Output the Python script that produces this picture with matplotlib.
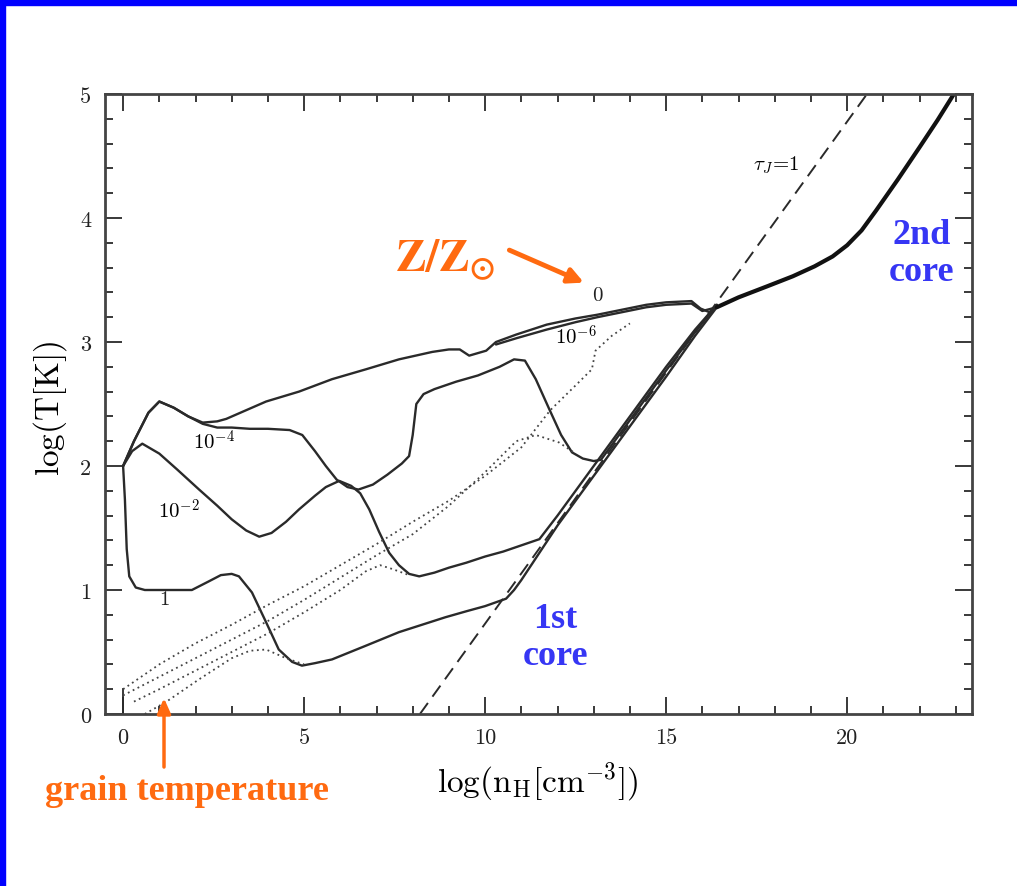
import matplotlib
matplotlib.use("Agg")
import matplotlib.pyplot as plt
from matplotlib.patches import Rectangle
from matplotlib.ticker import MultipleLocator

# density (log n_H) and temperature (log T) tracks for each metallicity
n_z0 = [0, 0.3, 0.7, 1.0, 1.4, 1.8, 2.2, 2.6, 2.85, 3.4, 3.95, 4.86, 5.77, 6.71, 7.62, 8.54, 9.0, 9.3,
        9.56, 10.03, 10.3, 10.86, 11.7, 12.5, 13.1, 14.45, 15.0, 15.7, 15.95, 16.2, 16.4]
t_z0 = [2.0, 2.2, 2.43, 2.52, 2.47, 2.4, 2.35, 2.36, 2.38, 2.45, 2.52, 2.6, 2.7, 2.78, 2.86, 2.92, 2.94, 2.94,
        2.89, 2.93, 3.0, 3.06, 3.14, 3.19, 3.22, 3.3, 3.32, 3.33, 3.27, 3.24, 3.28]

n_z6 = [10.3, 10.86, 11.7, 12.5, 13.1, 14.45, 15.0, 15.7, 16.0, 16.4]
t_z6 = [2.98, 3.03, 3.1, 3.16, 3.2, 3.28, 3.3, 3.31, 3.25, 3.28]

n_z4 = [0, 0.3, 0.7, 1.0, 1.4, 1.8, 2.2, 2.6, 3.0, 3.5, 4.0, 4.6, 4.95, 5.3, 5.6, 5.9, 6.2, 6.5, 6.9, 7.3,
        7.7, 7.9, 8.0, 8.1, 8.3, 8.6, 9.2, 9.8, 10.4, 10.8, 11.1, 11.4, 11.77, 12.1, 12.4, 12.7, 13.0, 13.2,
        13.5, 14.0, 15.0, 15.8, 16.4]
t_z4 = [2.0, 2.2, 2.43, 2.52, 2.47, 2.4, 2.34, 2.31, 2.31, 2.3, 2.3, 2.29, 2.25, 2.12, 2.0, 1.89, 1.83, 1.81,
        1.85, 1.93, 2.02, 2.08, 2.25, 2.5, 2.58, 2.62, 2.68, 2.73, 2.8, 2.86, 2.85, 2.7, 2.46, 2.25, 2.11,
        2.06, 2.04, 2.05, 2.17, 2.37, 2.77, 3.08, 3.3]

n_z2 = [0, 0.25, 0.53, 1.0, 1.5, 2.1, 2.6, 3.0, 3.4, 3.76, 4.1, 4.5, 4.86, 5.3, 5.6, 5.97, 6.3, 6.55, 6.8,
        7.07, 7.35, 7.62, 7.9, 8.18, 8.6, 9.0, 9.48, 10.0, 10.5, 11.0, 11.5, 12.0, 13.0, 14.0, 15.0, 15.8, 16.4]
t_z2 = [2.0, 2.12, 2.18, 2.1, 1.97, 1.81, 1.68, 1.57, 1.48, 1.43, 1.46, 1.55, 1.65, 1.76, 1.83, 1.88, 1.84,
        1.78, 1.65, 1.47, 1.3, 1.2, 1.13, 1.11, 1.14, 1.18, 1.22, 1.27, 1.31, 1.36, 1.41, 1.6, 2.0, 2.4, 2.8,
        3.1, 3.3]

n_z1 = [0, 0.05, 0.1, 0.17, 0.35, 0.6, 1.5, 1.9, 2.37, 2.7, 3.0, 3.2, 3.56, 3.95, 4.3, 4.67, 4.94, 5.3, 5.77,
        6.7, 7.62, 8.9, 9.5, 10.0, 10.58, 10.8, 11.0, 11.5, 12.0, 13.0, 14.0, 15.0, 15.8, 16.4]
t_z1 = [2.0, 1.73, 1.33, 1.11, 1.02, 1.0, 1.0, 1.0, 1.07, 1.12, 1.13, 1.11, 0.98, 0.74, 0.52, 0.42, 0.39, 0.41,
        0.44, 0.55, 0.66, 0.78, 0.83, 0.87, 0.93, 1.0, 1.08, 1.3, 1.52, 1.92, 2.32, 2.72, 3.05, 3.28]

# shared track up to the second core
n_core = [16.4, 17.0, 17.8, 18.5, 19.1, 19.6, 20.0, 20.4, 20.8, 21.4, 22.0, 22.5, 22.95]
t_core = [3.28, 3.36, 3.45, 3.53, 3.61, 3.69, 3.78, 3.9, 4.06, 4.31, 4.57, 4.79, 5.0]

# grain temperatures (dotted)
n_g1 = [0, 1, 2, 3, 4, 5, 6, 7, 8, 9, 10, 11, 11.8, 12.5, 12.95, 13.05, 13.5, 14.0]
t_g1 = [0.2, 0.4, 0.57, 0.72, 0.88, 1.03, 1.2, 1.37, 1.55, 1.72, 1.92, 2.15, 2.45, 2.65, 2.78, 2.93, 3.05, 3.15]
n_g2 = [0, 1, 2, 3, 4, 5, 6, 7, 8, 9, 10, 10.86, 11.4, 12.04, 12.5]
t_g2 = [0.15, 0.3, 0.45, 0.6, 0.75, 0.92, 1.1, 1.28, 1.45, 1.68, 1.95, 2.2, 2.25, 2.19, 2.1]
n_g3 = [0.3, 1, 2, 3, 4, 5, 6, 6.7, 7.1, 7.43, 7.9]
t_g3 = [0.1, 0.2, 0.35, 0.5, 0.65, 0.82, 1.0, 1.15, 1.2, 1.17, 1.12]
n_g4 = [0.6, 1.2, 2.1, 3.0, 3.5, 3.95, 4.5, 5.0]
t_g4 = [0.0, 0.1, 0.28, 0.45, 0.51, 0.52, 0.45, 0.4]
n_g0 = [0, 0]
t_g0 = [0, 0.2]

# tau_J = 1 boundary
n_tau = [8.2, 20.55]
t_tau = [0.0, 5.0]

orange = "#ff6a10"
blue = "#3636f4"
ink = "#2a2a2a"

fig = plt.figure(figsize=(10.17, 8.87), dpi=100)
fig.patches.append(Rectangle((0, 0), 5 / 1017, 1, transform=fig.transFigure, color="#0000ff", zorder=0))
fig.patches.append(Rectangle((0, 1 - 6 / 887), 1, 6 / 887, transform=fig.transFigure, color="#0000ff", zorder=0))

ax = fig.add_axes([105 / 1017, 1 - 715 / 887, 867 / 1017, 620 / 887])

for n, t in [(n_z0, t_z0), (n_z6, t_z6), (n_z4, t_z4), (n_z2, t_z2), (n_z1, t_z1)]:
    ax.plot(n, t, color=ink, lw=1.7, solid_capstyle="round")
ax.plot(n_core, t_core, color="#111111", lw=3.0, solid_capstyle="round")
ax.plot(n_g0, t_g0, color=ink, lw=1.3)

for n, t in [(n_g1, t_g1), (n_g2, t_g2), (n_g3, t_g3), (n_g4, t_g4)]:
    ax.plot(n, t, color="#444444", lw=1.3, ls=(0, (1, 2)))

ax.plot(n_tau, t_tau, color=ink, lw=1.4, ls=(0, (7, 4)))

ax.set_xlim(-0.5, 23.45)
ax.set_ylim(0, 5)
ax.xaxis.set_major_locator(MultipleLocator(5))
ax.xaxis.set_minor_locator(MultipleLocator(1))
ax.yaxis.set_major_locator(MultipleLocator(1))
ax.yaxis.set_minor_locator(MultipleLocator(0.2))
ax.tick_params(which="both", direction="in", top=True, right=True, color=ink, width=1.3)
ax.tick_params(which="major", length=12)
ax.tick_params(which="minor", length=6)
ax.tick_params(labeltop=False, labelright=False, labelsize=16, labelcolor="#222222", pad=10)
for lab in ax.get_xticklabels() + ax.get_yticklabels():
    lab.set_family("cmr10")
for s in ax.spines.values():
    s.set_color("#444444")
    s.set_linewidth(2.0)

# curve labels
ax.text(13.1, 3.38, "0", fontsize=15, family="cmr10", ha="center", va="center", color="#222222")
ax.text(12.5, 3.05, r"$10^{-6}$", fontsize=15, math_fontfamily="cm", ha="center", va="center")
ax.text(2.5, 2.2, r"$10^{-4}$", fontsize=15, math_fontfamily="cm", ha="center", va="center")
ax.text(1.55, 1.65, r"$10^{-2}$", fontsize=15, math_fontfamily="cm", ha="center", va="center")
ax.text(1.13, 0.93, "1", fontsize=15, family="cmr10", ha="center", va="center", color="#222222")
ax.text(18.05, 4.43, r"$\tau_J\!=\!1$", fontsize=15, math_fontfamily="cm", ha="center", va="center")

# axis titles
fig.text(538 / 1017, 1 - 782 / 887, r"$\mathrm{log(n_H[cm^{-3}])}$", fontsize=24,
         math_fontfamily="cm", ha="center", va="center")
fig.text(50 / 1017, 1 - 408 / 887, r"$\mathrm{log(T[K])}$", fontsize=24, rotation=90,
         math_fontfamily="cm", ha="center", va="center")

# highlighted annotations
bold = dict(family="Liberation Serif", weight="bold")
fig.text(445 / 1017, 1 - 260 / 887, r"$\mathbf{Z/Z_{\odot}}$", fontsize=33, color=orange,
         math_fontfamily="stix", ha="center", va="center")
ax.annotate("", xy=(12.8, 3.47), xytext=(10.6, 3.75),
            arrowprops=dict(arrowstyle="-|>,head_length=0.9,head_width=0.45", color=orange, lw=3.5))
fig.text(922 / 1017, 1 - 254 / 887, "2nd\ncore", fontsize=26, color=blue, ha="center", va="center",
         linespacing=1.15, **bold)
fig.text(555 / 1017, 1 - 638 / 887, "1st\ncore", fontsize=26, color=blue, ha="center", va="center",
         linespacing=1.15, **bold)
fig.text(187 / 1017, 1 - 792 / 887, "grain temperature", fontsize=26, color=orange, ha="center",
         va="center", **bold)
ax.annotate("", xy=(1.13, 0.15), xytext=(1.13, -0.45), annotation_clip=False,
            arrowprops=dict(arrowstyle="-|>,head_length=0.9,head_width=0.4", color=orange, lw=2.5))

fig.savefig("out.png", dpi=100)
